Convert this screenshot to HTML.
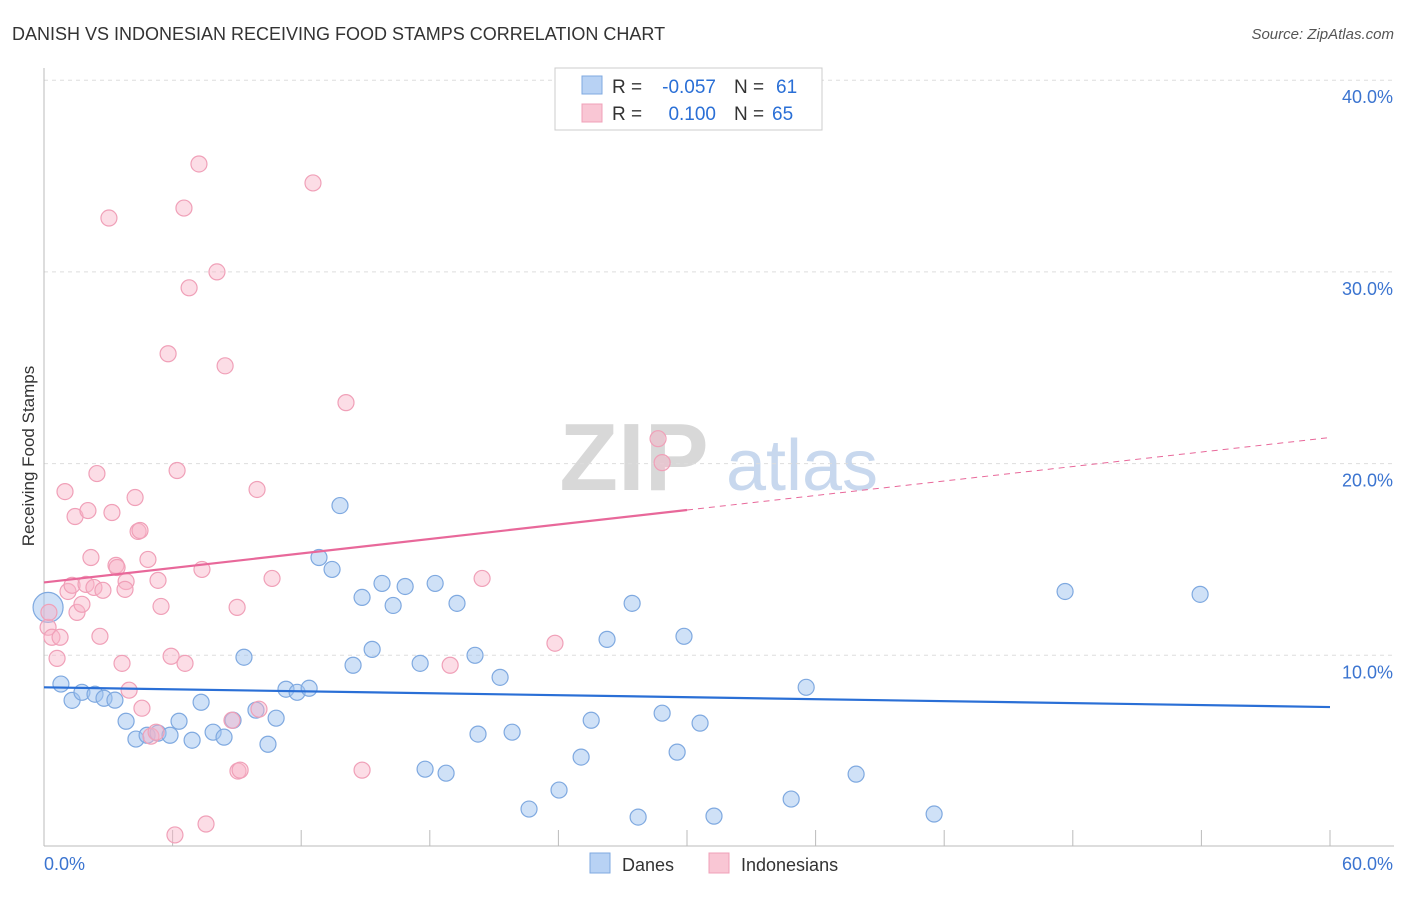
<!DOCTYPE html>
<html><head><meta charset="utf-8"><style>
body{margin:0;background:#fff;font-family:"Liberation Sans",sans-serif;}
svg text{font-family:"Liberation Sans",sans-serif;}
</style></head><body>
<svg id="chart" width="1406" height="892" viewBox="0 0 1406 892" xmlns="http://www.w3.org/2000/svg">
<text x="12" y="40" font-size="18" fill="#333">DANISH VS INDONESIAN RECEIVING FOOD STAMPS CORRELATION CHART</text>
<text x="1394" y="39" font-size="15" fill="#555" text-anchor="end" font-style="italic">Source: ZipAtlas.com</text>
<g>
<text x="634" y="490" font-size="96" fill="#d8d8d8" font-family="Liberation Serif" text-anchor="middle" font-weight="bold">ZIP</text>
<text x="802" y="490" font-size="72" fill="#c8d8ee" text-anchor="middle">atlas</text>
</g>
<g id="grid"></g>
<line x1="44" y1="68" x2="44" y2="846" stroke="#bbb"/>
<line x1="44" y1="846" x2="1394" y2="846" stroke="#bbb"/>
<text transform="translate(34,456) rotate(-90)" font-size="17" fill="#333" text-anchor="middle">Receiving Food Stamps</text>
<text x="44" y="870" font-size="18" fill="#3b74d0">0.0%</text>
<text x="1393" y="870" font-size="18" fill="#3b74d0" text-anchor="end">60.0%</text>
<g id="pts"></g>
<g id="lines"></g>
<g>
<rect x="555" y="68" width="267" height="62" fill="#fff" stroke="#ccc"/>
<rect x="582" y="76" width="20" height="18" fill="#b8d2f4" stroke="#7fa9e0"/>
<rect x="582" y="104" width="20" height="18" fill="#f9c6d4" stroke="#f0a0b8"/>
<text x="612" y="93" font-size="19" fill="#333">R =</text>
<text x="716" y="93" font-size="19" fill="#2a6fd6" text-anchor="end">-0.057</text>
<text x="734" y="93" font-size="19" fill="#333">N =</text>
<text x="776" y="93" font-size="19" fill="#2a6fd6">61</text>
<text x="612" y="120" font-size="19" fill="#333">R =</text>
<text x="716" y="120" font-size="19" fill="#2a6fd6" text-anchor="end">0.100</text>
<text x="734" y="120" font-size="19" fill="#333">N =</text>
<text x="772" y="120" font-size="19" fill="#2a6fd6">65</text>
</g>
<g>
<rect x="590" y="853" width="20" height="20" fill="#b8d2f4" stroke="#7fa9e0"/>
<text x="622" y="871" font-size="18" fill="#333">Danes</text>
<rect x="709" y="853" width="20" height="20" fill="#f9c6d4" stroke="#f0a0b8"/>
<text x="741" y="871" font-size="18" fill="#333">Indonesians</text>
</g>
</svg>
<script>
const yTicks=[10,20,30,40];
const yTickLabels=["10.0%","20.0%","30.0%","40.0%"];
const xTicks=[0,6,12,18,24,30,36,42,48,54,60];
const danesX=[0.19,0.79,1.31,1.77,2.38,2.8,3.31,3.83,4.29,4.81,5.32,5.88,6.3,6.91,7.33,7.89,8.4,8.82,9.33,9.89,10.45,10.83,11.29,11.81,12.37,12.83,13.44,13.81,14.42,14.84,15.31,15.77,16.29,16.85,17.55,17.78,18.25,18.76,19.27,20.11,20.25,21.28,21.84,22.63,24.03,25.06,25.53,26.27,27.44,27.72,28.84,29.54,29.86,30.61,31.26,34.86,35.56,37.89,41.53,47.64,53.94];
const danesY=[12.5,8.5,7.65,8.07,7.97,7.76,7.66,6.56,5.63,5.83,5.94,5.83,6.56,5.57,7.55,5.99,5.73,6.61,9.9,7.14,5.36,6.72,8.23,8.07,8.28,15.1,14.48,17.81,9.48,13.02,10.31,13.75,12.6,13.59,9.58,4.06,13.75,3.85,12.71,10,5.89,8.85,5.99,1.98,2.97,4.69,6.61,10.83,12.71,1.56,6.98,4.95,10.99,6.46,1.61,2.5,8.33,3.8,1.72,13.33,13.18];
const indoX=[0.19,0.37,0.61,0.75,0.98,1.12,1.31,1.45,1.54,1.77,1.96,2.05,2.19,2.33,2.47,2.61,2.75,3.03,3.17,3.36,3.41,3.64,3.83,3.78,3.97,4.25,4.39,4.48,4.57,4.85,4.99,5.23,5.32,5.46,5.79,5.93,6.11,6.21,6.53,6.58,6.77,7.23,7.37,7.56,8.07,8.45,8.77,9.01,9.05,9.15,9.94,10.03,10.64,12.55,14.09,14.84,18.95,20.44,23.84,28.65,28.84,0.23];
const indoY=[11.46,10.94,9.84,10.94,18.54,13.33,13.65,17.24,12.24,12.66,13.7,17.55,15.1,13.54,19.48,10.99,13.39,32.81,17.45,14.69,14.58,9.58,13.85,13.44,8.18,18.23,16.46,16.51,7.24,15,5.78,5.99,13.91,12.55,25.73,9.95,0.63,19.64,33.33,9.58,29.17,35.63,14.48,1.2,30,25.1,6.61,12.5,3.96,4.01,18.65,7.19,14.01,34.64,23.18,4.01,9.48,14.01,10.63,21.3,20.05,12.24];
const danesTrend=[8.33,7.3];
const indoTrend=[13.8,21.36];
const indoSolidEnd=30;
const NS="http://www.w3.org/2000/svg";
const X=v=>44+v*(1330-44)/60;
const Y=v=>847-v*19.17;
function mk(tag,attrs,parent){const e=document.createElementNS(NS,tag);for(const k in attrs)e.setAttribute(k,attrs[k]);parent.appendChild(e);return e;}
const grid=document.getElementById('grid');
yTicks.forEach((t,i)=>{
 const l=mk('line',{x1:44,x2:1394,y1:Y(t),y2:Y(t),stroke:'#ddd','stroke-dasharray':'4,4'},grid);
 
 
 const tx=mk('text',{x:1393,y:Y(t)+23,'font-size':18,fill:'#3b74d0','text-anchor':'end'},grid);
 tx.textContent=yTickLabels[i];
 
 
});
xTicks.forEach(t=>{
 const l=mk('line',{x1:X(t),x2:X(t),y1:830,y2:846,stroke:'#bbb'},grid);
 
 
});
const pts=document.getElementById('pts');
danesX.forEach((x,i)=>{
 const c=mk('circle',{cx:X(x),cy:Y(danesY[i]),r:i===0?15:8,fill:'rgba(160,196,240,0.5)',stroke:'#7fa9e0','stroke-width':1.2},pts);
 
 
});
indoX.forEach((x,i)=>{
 const c=mk('circle',{cx:X(x),cy:Y(indoY[i]),r:8,fill:'rgba(248,180,200,0.45)',stroke:'#f0a0b8','stroke-width':1.2},pts);
 
 
});
const lines=document.getElementById('lines');
const bl=mk('line',{x1:X(0),y1:Y(danesTrend[0]),x2:X(60),y2:Y(danesTrend[1]),stroke:'#2a6fd6','stroke-width':2.2},lines);


const iy=x=>indoTrend[0]+(indoTrend[1]-indoTrend[0])*x/60;
const pl=mk('line',{x1:X(0),y1:Y(iy(0)),x2:X(indoSolidEnd),y2:Y(iy(indoSolidEnd)),stroke:'#e8689a','stroke-width':2.2},lines);


const pd=mk('line',{x1:X(indoSolidEnd),y1:Y(iy(indoSolidEnd)),x2:X(60),y2:Y(iy(60)),stroke:'#e8689a','stroke-width':1,'stroke-dasharray':'6,5'},lines);


</script>
</body></html>
